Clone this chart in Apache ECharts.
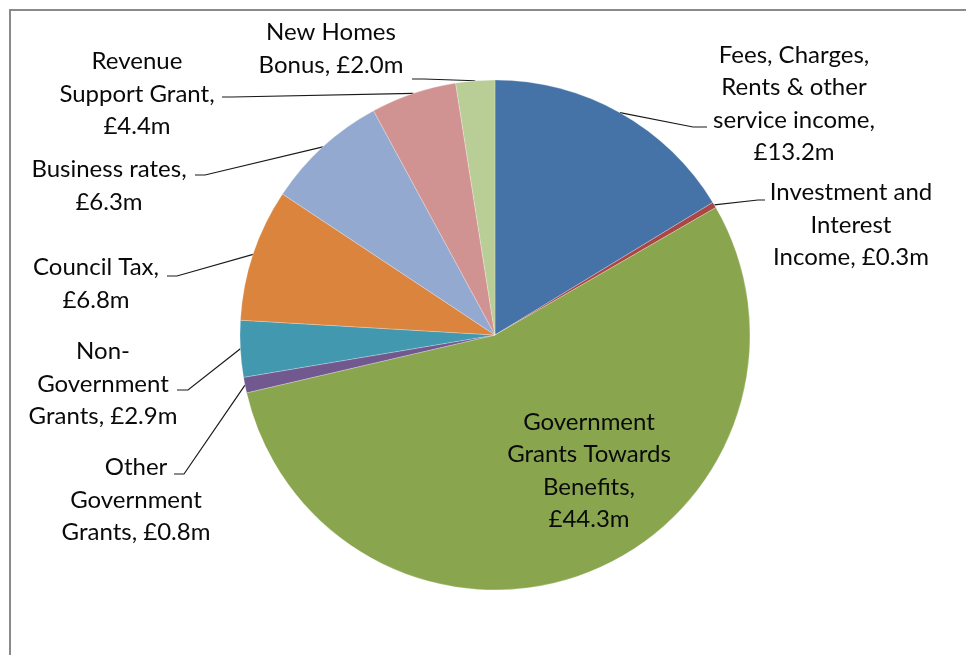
<!DOCTYPE html>
<html>
<head>
<meta charset="utf-8">
<script src="https://cdn.jsdelivr.net/npm/echarts@6/dist/echarts.min.js"></script>
<style>
html,body{margin:0;padding:0;background:#fff;}
#chart{width:966px;height:655px;}
</style>
</head>
<body>
<div id="chart"></div>
<script>
// ---- data ----
var categories = [
  'Fees, Charges, Rents & other service income',
  'Investment and Interest Income',
  'Government Grants Towards Benefits',
  'Other Government Grants',
  'Non-Government Grants',
  'Council Tax',
  'Business rates',
  'Revenue Support Grant',
  'New Homes Bonus'
];
var values = [13.2, 0.3, 44.3, 0.8, 2.9, 6.8, 6.3, 4.4, 2.0];
// category names as wrapped in the reference labels
var wrappedNames = [
  'Fees, Charges,\nRents & other\nservice income,',
  'Investment and\nInterest\nIncome,',
  'Government\nGrants Towards\nBenefits,',
  'Other\nGovernment\nGrants,',
  'Non-\nGovernment\nGrants,',
  'Council Tax,',
  'Business rates,',
  'Revenue\nSupport Grant,',
  'New Homes\nBonus,'
];
// whether the value goes on its own line
var valueOnNewLine = [true, false, true, false, false, true, true, true, false];

// ---- styling / layout (not data) ----
var colors = ['#4572A7', '#AA4643', '#89A54E', '#71588F', '#4198AF', '#DB843D', '#93A9CF', '#D19392', '#B9CD96'];
var labelPos = [
  {x: 794, y: 104, line: [[693, 127], [707, 127]]},
  {x: 851, y: 225, line: [[758, 200], [765, 200]]},
  {x: 589, y: 471, line: null},
  {x: 136, y: 500, line: [[184, 474], [174, 474]]},
  {x: 103, y: 384, line: [[188, 390], [177, 390]]},
  {x: 96,  y: 284, line: [[177, 276], [167, 276]]},
  {x: 109, y: 186, line: [[205, 175], [195, 175]]},
  {x: 137, y: 94,  line: [[232, 97], [222, 97]]},
  {x: 331, y: 49,  line: [[424, 79], [412, 79]]}
];
var CX = 495, CY = 335, R = 255;

var pieData = categories.map(function (c, i) {
  var item = {name: c, value: values[i], itemStyle: {color: colors[i]}};
  if (!labelPos[i].line) {
    item.label = {position: 'inside'};
    item.labelLine = {show: false};
  }
  return item;
});

var chart = echarts.init(document.getElementById('chart'), null, {renderer: 'canvas'});
chart.setOption({
  backgroundColor: '#ffffff',
  animation: false,
  graphic: [{
    type: 'rect',
    shape: {x: 10, y: 10, width: 1000, height: 700},
    style: {fill: 'none', stroke: '#8a8a8a', lineWidth: 2},
    silent: true
  }],
  series: [{
    type: 'pie',
    center: [CX, CY],
    radius: [0, R],
    startAngle: 90,
    clockwise: true,
    avoidLabelOverlap: false,
    data: pieData,
    itemStyle: {borderColor: '#ffffff', borderWidth: 0.25},
    label: {
      show: true,
      position: 'outside',
      fontFamily: 'Lato',
      fontSize: 24,
      lineHeight: 32.5,
      color: '#0a0a0a',
      align: 'center',
      formatter: function (p) {
        var i = p.dataIndex;
        var v = '\u00a3' + values[i].toFixed(1) + 'm';
        return wrappedNames[i] + (valueOnNewLine[i] ? '\n' : ' ') + v;
      }
    },
    labelLine: {
      show: true,
      lineStyle: {color: '#1a1a1a', width: 1.2}
    },
    labelLayout: function (params) {
      var i = params.dataIndex;
      var pos = labelPos[i];
      var res = {x: pos.x, y: pos.y, align: 'center', verticalAlign: 'middle'};
      if (pos.line) {
        var start;
        if (params.labelLinePoints && params.labelLinePoints[0]) {
          start = params.labelLinePoints[0];
        } else {
          var total = values.reduce(function (a, b) { return a + b; }, 0);
          var before = 0;
          for (var k = 0; k < i; k++) before += values[k];
          var ang = (before + values[i] / 2) / total * 2 * Math.PI;
          start = [CX + R * Math.sin(ang), CY - R * Math.cos(ang)];
        }
        res.labelLinePoints = [start, pos.line[0], pos.line[1]];
      }
      return res;
    }
  }]
});
</script>
</body>
</html>
